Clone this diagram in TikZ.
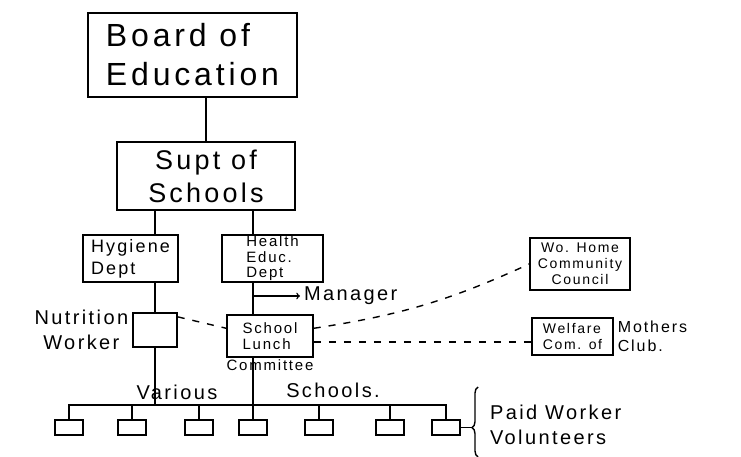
\documentclass[tikz,border=0pt]{standalone}
\usepackage{fontspec}
\setmainfont[LetterSpace=12]{Liberation Sans}
\usetikzlibrary{positioning,decorations.pathreplacing}

\begin{document}
\begin{tikzpicture}[x=1pt, y=-1pt, line width=1.4pt,
    main/.style = {draw, line width=1.5pt, inner sep=0pt, align=left},
    school/.style = {draw, minimum width=28pt, minimum height=15pt},
    link/.style = {dash pattern=on 7pt off 8pt},
    huge/.style = {font=\fontsize{32}{39}\selectfont},
    big/.style = {font=\fontsize{27}{33}\selectfont},
    mid/.style = {font=\fontsize{20}{25}\selectfont},
    small/.style = {font=\fontsize{15}{15.5}\selectfont},
    tiny/.style = {font=\fontsize{14}{16}\selectfont}]
    \useasboundingbox (0,0) rectangle (741,457);
    \node[main, huge, minimum width=209pt, minimum height=84pt] (1) at (192.5,55) {Board of\\Education};
    \node[main, big, align=center, minimum width=178pt, minimum height=68pt] (2) at (206,176) {Supt of\\Schools};
    \node[main, font=\fontsize{18}{22}\selectfont, minimum width=95pt, minimum height=47pt] (3) at (130.5,258.5) {Hygiene\\Dept};
    \node[main, small, minimum width=101pt, minimum height=47pt] (4) at (272.5,258.5) {Health\\Educ.\\Dept};
    \node[main, minimum width=44pt, minimum height=34pt] (5) at (155,330) [label={[mid, align=center]180:Nutrition\\Worker}] {};
    \node[main, small, minimum width=86pt, minimum height=42pt] (6) at (270,336) [label={[small, inner sep=1pt]below:Committee}] {School\\Lunch};
    \node[main, tiny, align=center, minimum width=100pt, minimum height=52pt] (7) at (580,264) {Wo. Home\\Community\\Council};
    \node[main, tiny, minimum width=81pt, minimum height=37pt] (8) at (572.5,336.5) [label={[font=\fontsize{16}{19}\selectfont, align=left]0:Mothers\\Club.}] {Welfare\\Com. of};
    \foreach \i/\x in {1/69, 2/132, 3/199, 4/253, 5/319, 6/390, 7/446}
        \node[school] (s\i) at (\x,427.5) {};
    \node[mid, anchor=west] (m) at (300,296) {Manager};
    \node[mid] (v) at (177,392) {Various};
    \node[mid] (sc) at (333,390) {Schools.};
    \node[mid, align=left, anchor=west] (pw) at (486,425) {Paid Worker\\Volunteers};
    \coordinate (bus) at (0,405);
    \coordinate (tip) at (472,428);
    \coordinate (bt) at (478,387);
    \coordinate (bb) at (478,457);
    \draw (2.north) -- (2.north |- 1.south);
    \draw (2.south -| 5) -- (3.north -| 5);
    \draw (2.south -| s4) -- (4.north -| s4);
    \draw (3.south -| 5) -- (5.north);
    \draw (4.south -| s4) -- (6.north -| s4);
    \draw (5.south) -- (5 |- bus);
    \draw (6.south -| s4) -- (s4 |- bus);
    \draw[->] (m.west -| s4) -- (m.west);
    \draw (s1.north) -- (s1 |- bus) -- (s7 |- bus) -- (s7.north);
    \foreach \i in {2,...,6}
        \draw (s\i.north) -- (s\i |- bus);
    \draw (s7.east) -- (s7.east -| tip);
    \draw[decorate, decoration={brace, amplitude=6pt, aspect=0.42}] (bb) -- (bt);
    \draw[link] (5.30) -- (6.170);
    \draw[link] (6.10) to[bend right=8] (7.west);
    \draw[link] (6.-8) -- (6.-8 -| 8.west);
\end{tikzpicture}
\end{document}
